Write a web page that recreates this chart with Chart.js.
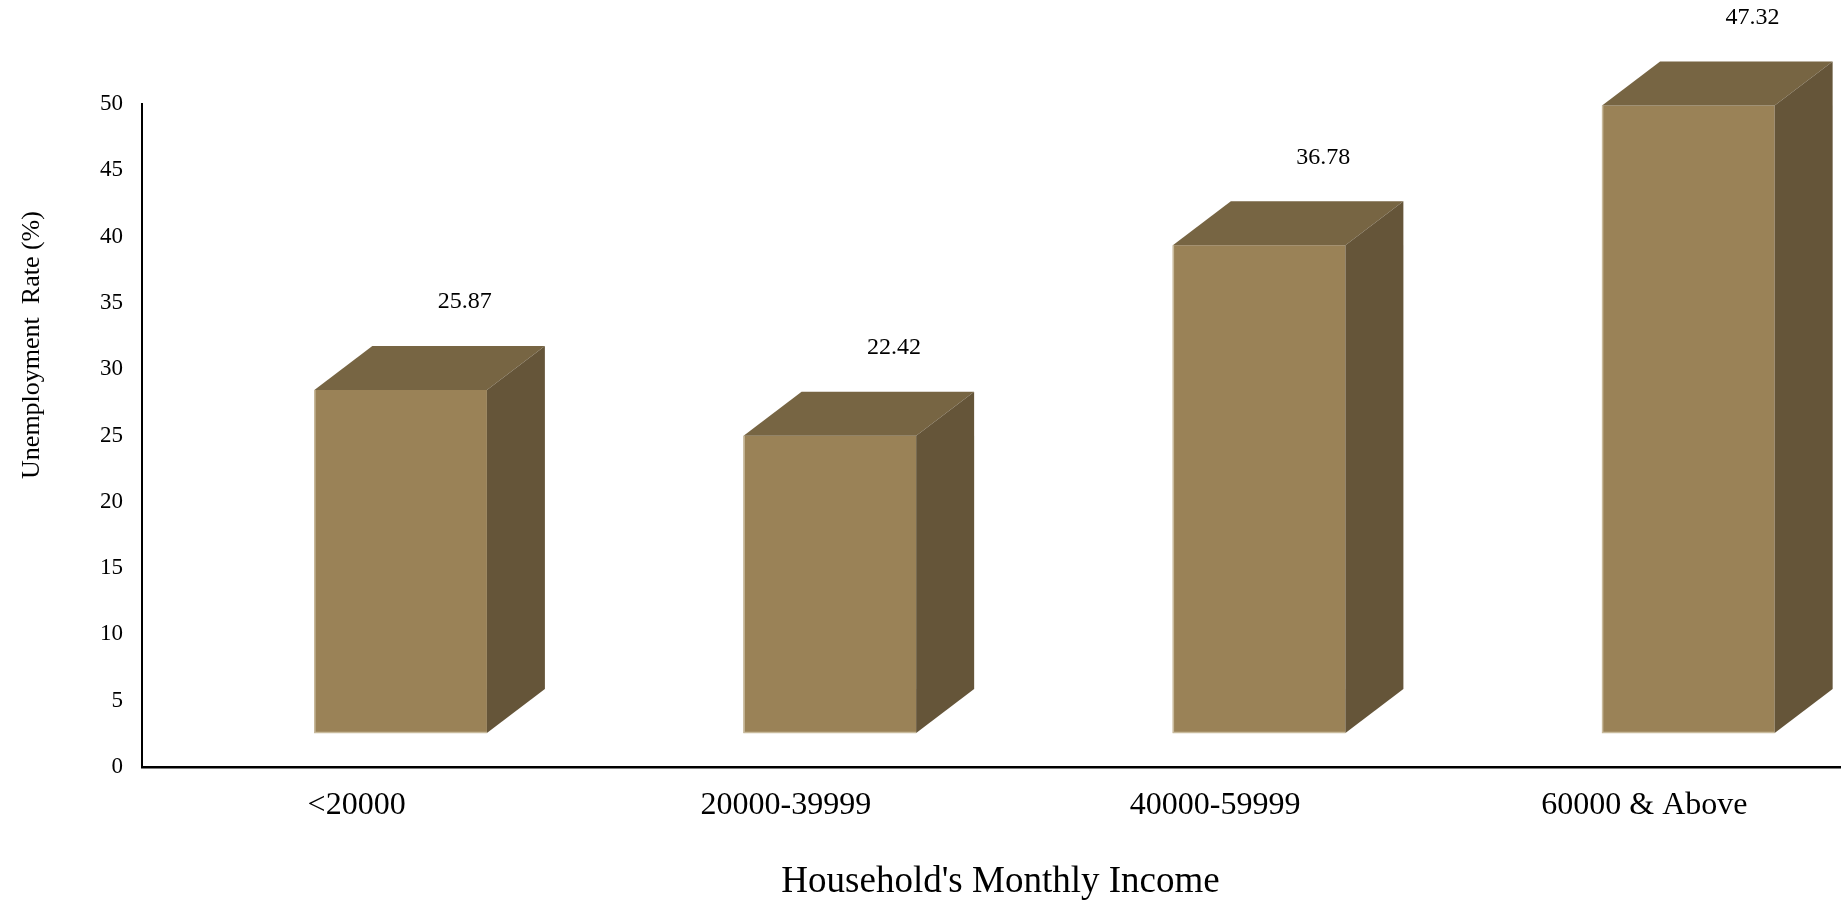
<!DOCTYPE html>
<html>
<head>
<meta charset="utf-8">
<script src="https://cdn.jsdelivr.net/npm/chart.js@4"></script>
<style>
  html, body { margin: 0; padding: 0; background: #fff; overflow: hidden; }
  #wrap { width: 1860px; height: 903px; }
</style>
</head>
<body>
<div id="wrap"><canvas id="unemploymentChart" width="1860" height="903"></canvas></div>
<script>
const INCOME_GROUPS = ['<20000', '20000-39999', '40000-59999', '60000 & Above'];
const UNEMPLOYMENT_RATE = [25.87, 22.42, 36.78, 47.32];
const Y_TICKS = [0, 5, 10, 15, 20, 25, 30, 35, 40, 45, 50];

const FONT = "'Liberation Serif', 'Times New Roman', serif";
const FRONT_COLOR = 'rgb(154, 130, 87)';
const TOP_COLOR = 'rgb(119, 101, 67)';
const SIDE_COLOR = 'rgb(101, 85, 57)';
const EDGE_COLOR = 'rgb(200, 186, 156)';

// 3d look: front face pushed right/up, depth going up-right
const SHIFT_X = 44;
const SHIFT_Y = 34;
const DEPTH_X = 58;
const DEPTH_Y = 44;

const bar3d = {
    id: 'bar3d',
    beforeDatasetsDraw(chart) {
        chart.ctx.save();
        chart.ctx.translate(SHIFT_X, -SHIFT_Y);
    },
    afterDatasetsDraw(chart) {
        const ctx = chart.ctx;
        const meta = chart.getDatasetMeta(0);
        for (let bar of meta.data) {
            const x0 = bar.x - bar.width / 2;
            const x1 = bar.x + bar.width / 2;
            const yTop = bar.y;
            const yBot = bar.base;

            ctx.fillStyle = TOP_COLOR;
            ctx.beginPath();
            ctx.moveTo(x0, yTop);
            ctx.lineTo(x0 + DEPTH_X, yTop - DEPTH_Y);
            ctx.lineTo(x1 + DEPTH_X, yTop - DEPTH_Y);
            ctx.lineTo(x1, yTop);
            ctx.closePath();
            ctx.fill();

            ctx.fillStyle = SIDE_COLOR;
            ctx.beginPath();
            ctx.moveTo(x1, yTop);
            ctx.lineTo(x1 + DEPTH_X, yTop - DEPTH_Y);
            ctx.lineTo(x1 + DEPTH_X, yBot - DEPTH_Y);
            ctx.lineTo(x1, yBot);
            ctx.closePath();
            ctx.fill();

            ctx.strokeStyle = EDGE_COLOR;
            ctx.lineWidth = 1.5;
            ctx.beginPath();
            ctx.moveTo(x0 + 0.5, yTop);
            ctx.lineTo(x0 + 0.5, yBot - 0.5);
            ctx.lineTo(x1, yBot - 0.5);
            ctx.stroke();
        }
        ctx.restore();

        // value labels above each bar
        ctx.save();
        ctx.fillStyle = '#000';
        ctx.font = '24px ' + FONT;
        ctx.textAlign = 'center';
        ctx.textBaseline = 'middle';
        meta.data.forEach((bar, i) => {
            const lx = bar.x + SHIFT_X + 64;
            const ly = bar.y - SHIFT_Y - DEPTH_Y - 44;
            ctx.fillText(UNEMPLOYMENT_RATE[i].toFixed(2), lx, ly);
        });
        ctx.restore();
    },
    afterDraw(chart) {
        const ctx = chart.ctx;
        ctx.save();
        ctx.fillStyle = '#000';
        ctx.font = '26px ' + FONT;
        ctx.textAlign = 'center';
        ctx.textBaseline = 'middle';
        ctx.translate(32, 345);
        ctx.rotate(-Math.PI / 2);
        ctx.fillText('Unemployment  Rate (%)', 0, 0);
        ctx.restore();
    }
};

const data = {
    labels: INCOME_GROUPS,
    datasets: [{
        label: 'Unemployment Rate (%)',
        data: UNEMPLOYMENT_RATE,
        backgroundColor: FRONT_COLOR,
        borderWidth: 0,
        categoryPercentage: 1.0,
        barPercentage: 0.402,
        clip: false
    }]
};

const config = {
    type: 'bar',
    data: data,
    plugins: [bar3d],
    options: {
        responsive: false,
        animation: false,
        devicePixelRatio: 1,
        layout: { padding: { top: 104, left: 0, right: 1, bottom: 0 } },
        plugins: {
            legend: { display: false },
            tooltip: { enabled: false }
        },
        scales: {
            x: {
                grid: { display: false, drawTicks: false },
                border: { display: true, color: '#000', width: 2.5 },
                ticks: {
                    color: '#000',
                    padding: 19,
                    font: { family: FONT, size: 32 }
                },
                title: {
                    display: true,
                    text: "Household's Monthly Income",
                    color: '#000',
                    font: { family: FONT, size: 37, lineHeight: 1.1 },
                    padding: { top: 0, bottom: 0 }
                },
                afterFit(scale) { scale.height = 136; }
            },
            y: {
                min: 0,
                max: 50,
                afterBuildTicks(scale) {
                    scale.ticks = Y_TICKS.map(v => ({ value: v }));
                },
                grid: { display: false, drawTicks: false },
                border: { display: true, color: '#000', width: 2 },
                ticks: {
                    color: '#000',
                    padding: 19,
                    font: { family: FONT, size: 23 }
                },
                afterFit(scale) { scale.width = 142; }
            }
        }
    }
};

const unemploymentChart = new Chart(
    document.getElementById('unemploymentChart'),
    config
);
</script>
</body>
</html>
